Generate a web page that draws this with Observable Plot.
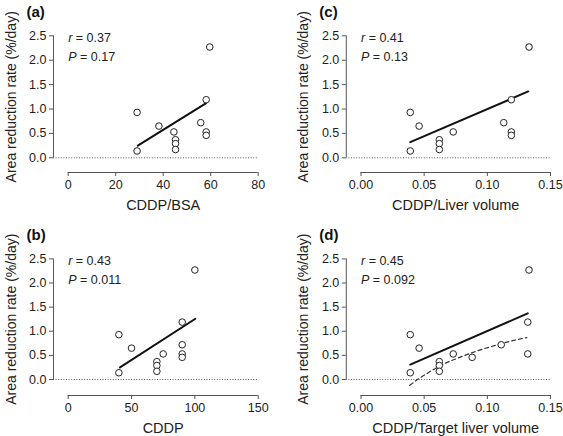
<!DOCTYPE html>
<html><head><meta charset="utf-8">
<script src="https://cdn.jsdelivr.net/npm/d3@7"></script>
<script src="https://cdn.jsdelivr.net/npm/@observablehq/plot@0.6"></script>
<style>
body{margin:0;background:#fff;}
#chart{position:relative;width:563px;height:436px;font-family:"Liberation Sans",Arial,sans-serif;}
.panel{position:absolute;}
</style></head><body><div id="chart"></div>
<script>
// ---------- data ----------
const panelLetters = ["(a)", "(b)", "(c)", "(d)"];
const xLabels = ["CDDP/BSA", "CDDP", "CDDP/Liver volume", "CDDP/Target liver volume"];
const yLabel = "Area reduction rate (%/day)";
const rValues = ["0.37", "0.43", "0.41", "0.45"];
const pValues = ["0.17", "0.011", "0.13", "0.092"];
const yTicks = [0, 0.5, 1.0, 1.5, 2.0, 2.5];
const xTicksA = [0, 20, 40, 60, 80];
const xTicksB = [0, 50, 100, 150];
const xTicksC = [0, 0.05, 0.10, 0.15];
const xTicksD = [0, 0.05, 0.10, 0.15];

// area reduction rate (%/day), one per patient
const rate = [2.27, 1.19, 0.93, 0.65, 0.53, 0.37, 0.29, 0.17, 0.72, 0.53, 0.46, 0.14];
const cddpBsa    = [59.6, 58.1, 29.0, 38.2, 44.5, 45.2, 45.2, 45.2, 55.8, 58.1, 58.1, 29.0];
const cddp       = [100, 90, 40, 50, 75, 70, 70, 70, 90, 90, 90, 40];
const cddpLiver  = [0.133, 0.119, 0.039, 0.046, 0.073, 0.062, 0.062, 0.062, 0.113, 0.119, 0.119, 0.039];
const cddpTarget = [0.133, 0.132, 0.039, 0.046, 0.073, 0.062, 0.062, 0.062, 0.111, 0.132, 0.088, 0.039];

// regression line end points
const fitAx = [29.3, 58.1],   fitAy = [0.25, 1.12];
const fitBx = [40.9, 100.4],  fitBy = [0.25, 1.26];
const fitCx = [0.039, 0.1324], fitCy = [0.32, 1.36];
const fitDx = [0.039, 0.132], fitDy = [0.31, 1.37];
// dashed curve in (d)
const curveDx = [0.0386, 0.0471, 0.0551, 0.0630, 0.0763, 0.0895, 0.1028, 0.1161, 0.1314];
const curveDy = [-0.12, 0.04, 0.17, 0.29, 0.44, 0.57, 0.68, 0.78, 0.87];

// ---------- layout ----------
const layout = [
  {left: 0,   top: 0,   w: 281, h: 218, xRange: [67.7, 257.7], yRange: [157.3, 35.3], axisLineY: 172},
  {left: 0,   top: 218, w: 281, h: 218, xRange: [67.7, 257.7], yRange: [161, 40.4],   axisLineY: 177},
  {left: 281, top: 0,   w: 282, h: 218, xRange: [79.5, 269],   yRange: [157.3, 35.3], axisLineY: 172},
  {left: 281, top: 218, w: 282, h: 218, xRange: [79.5, 269],   yRange: [161, 40.4],   axisLineY: 177}
];
const yAxisOffset = 14.7;
const axisColor = "#555";
const textColor = "#222";

const panels = [
  {xs: cddpBsa, ticks: xTicksA, fmt: d3.format("d"), fx: fitAx, fy: fitAy},
  {xs: cddp, ticks: xTicksB, fmt: d3.format("d"), fx: fitBx, fy: fitBy},
  {xs: cddpLiver, ticks: xTicksC, fmt: d3.format(".2f"), fx: fitCx, fy: fitCy},
  {xs: cddpTarget, ticks: xTicksD, fmt: d3.format(".2f"), fx: fitDx, fy: fitDy, cx: curveDx, cy: curveDy}
];

const chart = document.getElementById("chart");
panels.forEach((p, i) => {
  const L = layout[i];
  const xmin = p.ticks[0], xmax = p.ticks[p.ticks.length - 1];
  const ymin = yTicks[0], ymax = yTicks[yTicks.length - 1];
  const pts = rate.map((r, k) => ({x: p.xs[k], y: r}));
  const fit = p.fx.map((x, k) => ({x, y: p.fy[k]}));
  const marginLeft = L.xRange[0] - yAxisOffset;
  const marks = [
    Plot.ruleY([0], {stroke: axisColor, strokeWidth: 1, strokeDasharray: "1,1.6"}),
    Plot.ruleX([xmin], {y1: ymin, y2: ymax, dx: -yAxisOffset, stroke: axisColor, strokeWidth: 1}),
    Plot.axisY({ticks: yTicks, tickFormat: d3.format(".1f"), tickSize: 4, tickPadding: 3, anchor: "left", stroke: axisColor, fill: textColor, label: null, fontSize: 12.5}),
    Plot.ruleY([0], {x1: xmin, x2: xmax, dy: L.axisLineY - L.yRange[0], stroke: axisColor, strokeWidth: 1}),
    Plot.axisX({ticks: p.ticks, tickFormat: p.fmt, tickSize: 4, tickPadding: 4, anchor: "bottom", stroke: axisColor, fill: textColor, label: null, fontSize: 12.5}),
    Plot.line(fit, {x: "x", y: "y", stroke: "#111", strokeWidth: 2}),
    Plot.dot(pts, {x: "x", y: "y", r: 3.3, stroke: "#222", fill: "white", strokeWidth: 1}),
    Plot.text([{x: xmin, y: ymax, t: "r = " + rValues[i]}], {x: "x", y: "y", text: "t", textAnchor: "start", dy: 2.5, fontSize: 12.5, fill: textColor, className: "stat"}),
    Plot.text([{x: xmin, y: ymax, t: "P = " + pValues[i]}], {x: "x", y: "y", text: "t", textAnchor: "start", dy: 21, fontSize: 12.5, fill: textColor, className: "stat"}),
    Plot.text([{x: xmin, y: ymax, t: panelLetters[i]}], {x: "x", y: "y", text: "t", textAnchor: "start", dx: -yAxisOffset - 27, dy: -23.5, fontSize: 15, fontWeight: "bold", fill: "#111"}),
    Plot.text([{x: (xmin + xmax) / 2, y: 0, t: xLabels[i]}], {x: "x", y: "y", text: "t", dy: L.axisLineY - L.yRange[0] + 33, fontSize: 14.5, fill: textColor}),
    Plot.text([{x: xmin, y: (ymin + ymax) / 2, t: yLabel}], {x: "x", y: "y", text: "t", rotate: -90, dx: -57, fontSize: 14, fill: textColor})
  ];
  if (p.cx) {
    const curve = p.cx.map((x, k) => ({x, y: p.cy[k]}));
    marks.splice(5, 0, Plot.line(curve, {x: "x", y: "y", curve: "monotone-x", stroke: "#333", strokeWidth: 1.2, strokeDasharray: "4,3"}));
  }
  const svg = Plot.plot({
    width: L.w, height: L.h,
    marginLeft: marginLeft,
    marginRight: L.w - L.xRange[1],
    marginTop: 10,
    marginBottom: L.h - L.axisLineY,
    x: {domain: [xmin, xmax], range: L.xRange, label: null},
    y: {domain: [ymin, ymax], range: L.yRange, label: null},
    style: {fontFamily: '"Liberation Sans", Arial, sans-serif', fontSize: "12px", color: textColor, background: "transparent", overflow: "visible"},
    marks
  });
  // italic r and P
  d3.select(svg).selectAll(".stat text").each(function () {
    const t = this.textContent;
    if (/^[rP] = /.test(t)) {
      const sel = d3.select(this);
      sel.text(null);
      sel.append("tspan").attr("font-style", "italic").text(t[0]);
      sel.append("tspan").text(t.slice(1));
    }
  });
  const div = document.createElement("div");
  div.className = "panel";
  div.style.left = L.left + "px";
  div.style.top = L.top + "px";
  div.appendChild(svg);
  chart.appendChild(div);
});
</script></body></html>
